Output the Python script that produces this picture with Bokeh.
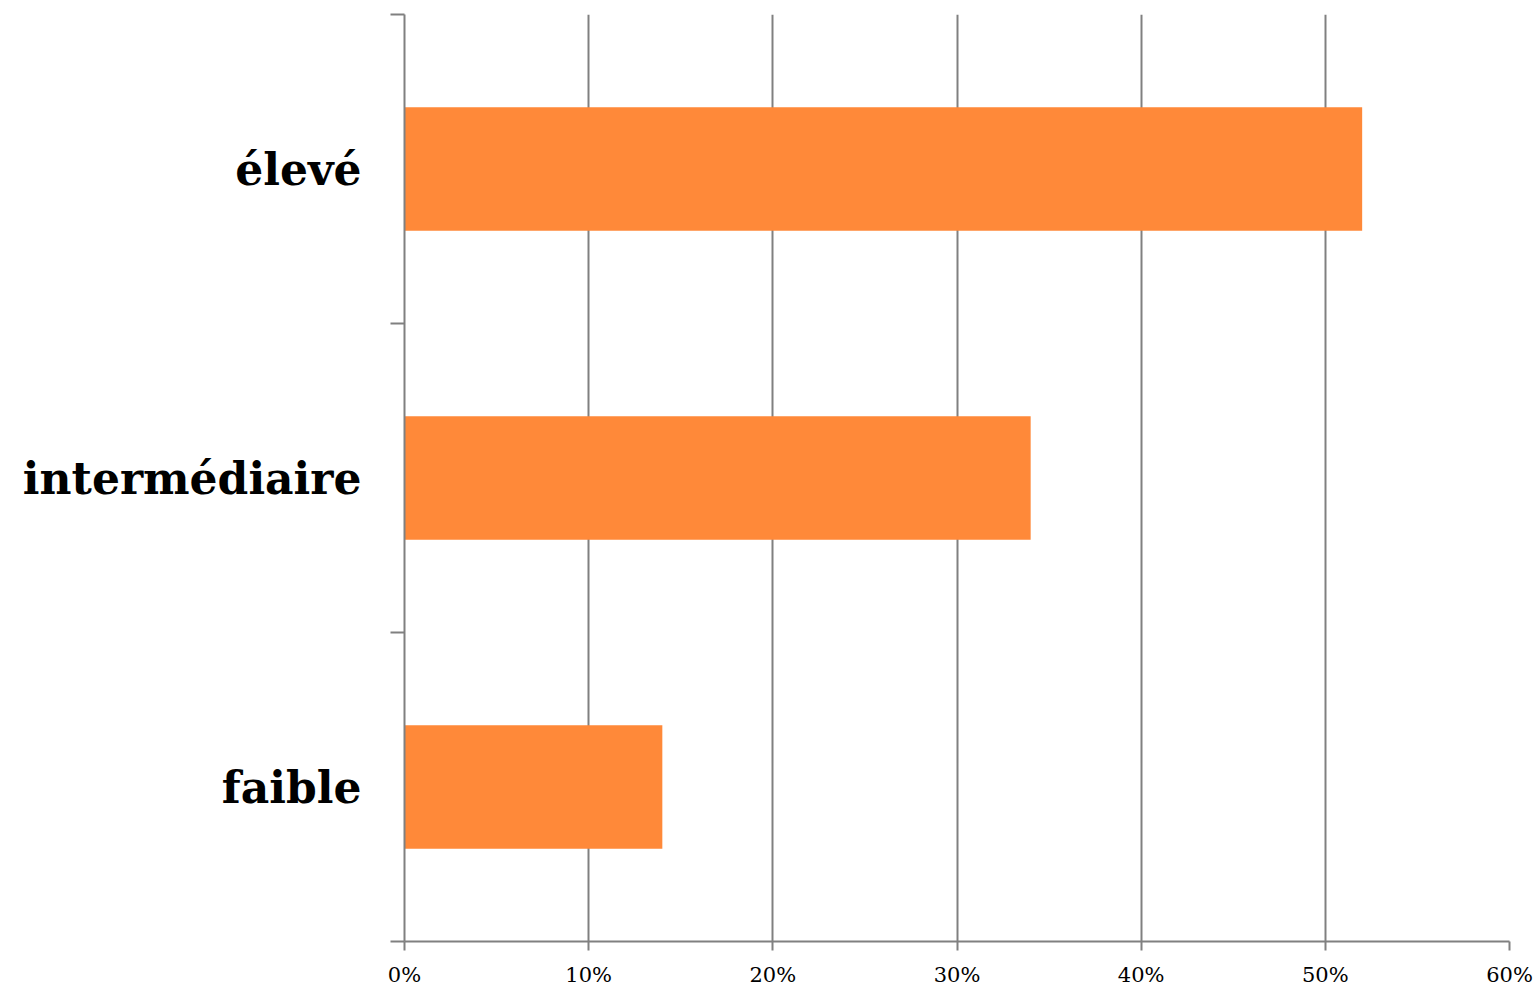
from bokeh.plotting import figure
from bokeh.models import FixedTicker, Range1d, ColumnDataSource, LinearAxis, Grid
from bokeh.embed import file_html
from bokeh.resources import INLINE

categories = ["faible", "intermédiaire", "élevé"]
values = [14, 34, 52]
x_ticks = [0, 10, 20, 30, 40, 50, 60]
x_tick_labels = ["0%", "10%", "20%", "30%", "40%", "50%", "60%"]

pos = [i + 0.5 for i in range(len(categories))]
src = ColumnDataSource(dict(y=pos, v=values, cat=categories))

p = figure(width=1540, height=990, output_backend="svg", toolbar_location=None,
           x_range=Range1d(0, 60), y_range=Range1d(0, len(categories)),
           frame_width=1105, frame_height=927,
           min_border_left=404, min_border_right=31, min_border_top=14, min_border_bottom=49,
           x_axis_location=None, y_axis_location=None)
p.outline_line_color = None
p.background_fill_color = "white"
p.border_fill_color = "white"

p.hbar(y="y", right="v", left=0, height=0.4, source=src, fill_color="#FF8939", line_color=None)

gray = "#808080"
xax = LinearAxis(ticker=FixedTicker(ticks=x_ticks))
xax.major_label_overrides = {t: l for t, l in zip(x_ticks, x_tick_labels)}
xax.axis_line_color = gray
xax.axis_line_width = 2
xax.major_tick_line_color = gray
xax.major_tick_line_width = 2
xax.major_tick_in = 0
xax.major_tick_out = 9
xax.minor_tick_line_color = None
xax.major_label_text_font = "DejaVu Serif"
xax.major_label_text_font_size = "21px"
xax.major_label_text_color = "black"
xax.major_label_standoff = 12
p.add_layout(xax, "below")

yax = LinearAxis(ticker=FixedTicker(ticks=pos, minor_ticks=[0, 1, 2, 3]))
yax.major_label_overrides = {y: c for y, c in zip(pos, categories)}
yax.axis_line_color = gray
yax.axis_line_width = 2
yax.major_tick_line_color = None
yax.major_tick_in = 0
yax.major_tick_out = 0
yax.minor_tick_line_color = gray
yax.minor_tick_line_width = 2
yax.minor_tick_in = 0
yax.minor_tick_out = 14
yax.major_label_text_font = "DejaVu Serif"
yax.major_label_text_font_style = "bold"
yax.major_label_text_font_size = "44px"
yax.major_label_text_color = "black"
yax.major_label_standoff = 29
p.add_layout(yax, "left")

p.xgrid.visible = False
p.ygrid.visible = False
g = Grid(dimension=0, ticker=FixedTicker(ticks=x_ticks), grid_line_color=gray, grid_line_width=2)
p.add_layout(g)

open("out.html", "w").write(file_html(p, INLINE))
